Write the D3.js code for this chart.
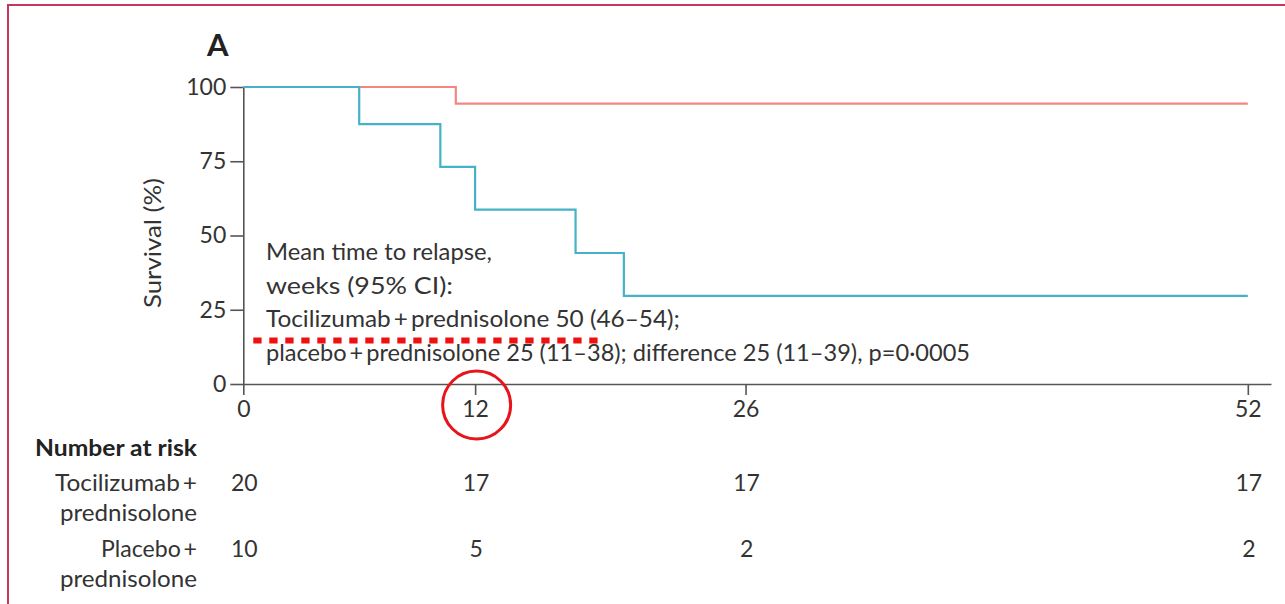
<html>
<script src="https://d3js.org/d3.v7.min.js"></script>
<style>
body { margin: 0; background-color: #ffffff; }
svg text { font-family: Lato, "Open Sans", sans-serif; fill: #333; }
.axis path, .axis line { stroke: #555; stroke-width: 1.6px; }
.axis text { font-size: 23px; fill: #333; }
</style>
<body>
<script>
// x ticks and y ticks
var xTicks = [0, 12, 26, 52];
var yTicks = [0, 25, 50, 75, 100];

// Kaplan-Meier steps (weeks, survival %)
var tociWeeks = [0, 11, 52];
var tociSurv  = [100, 94.4, 94.4];
var placWeeks = [0, 6, 10.2, 12, 17.2, 19.7, 52];
var placSurv  = [100, 87.5, 73.1, 58.7, 44.1, 29.7, 29.7];

// number at risk, at each x tick
var riskToci = [20, 17, 17, 17];
var riskPlac = [10, 5, 2, 2];

var annotation = [
  "Mean time to relapse,",
  "weeks (95% CI):",
  "Tocilizumab\u2009+\u2009prednisolone 50 (46\u201354);",
  "placebo\u2009+\u2009prednisolone 25 (11\u201338); difference 25 (11\u201339), p=0\u00b70005"
];
var annoWidths = [226, 187, 414, 704];

var W = 1285, H = 604;
var svg = d3.select("body").append("svg").attr("width", W).attr("height", H);

// frame
svg.append("path")
  .attr("d", "M8,604 L8,5 L1285,5")
  .attr("fill", "none").attr("stroke", "#c4385f").attr("stroke-width", 2);

var x = d3.scaleLinear().domain([0, 53.2]).range([243.3, 1271]);
var y = d3.scaleLinear().domain([0, 100]).range([384, 87]);

svg.append("text").attr("x", 207).attr("y", 56)
  .style("font-size", "31px").style("font-weight", "bold").style("fill", "#222")
  .text("A");

svg.append("g").attr("class", "axis")
  .attr("transform", "translate(0," + y(0) + ")")
  .call(d3.axisBottom(x).tickValues(xTicks).tickSize(11).tickSizeOuter(0).tickPadding(6))
  .call(function(g){ g.selectAll("text").style("font-family", "Lato, sans-serif"); });

svg.append("g").attr("class", "axis")
  .attr("transform", "translate(" + x(0) + ",0)")
  .call(d3.axisLeft(y).tickValues(yTicks).tickSize(13).tickSizeOuter(0).tickPadding(4))
  .call(function(g){ g.selectAll("text").style("font-family", "Lato, sans-serif"); });

svg.append("text")
  .attr("transform", "translate(161,243) rotate(-90)")
  .attr("text-anchor", "middle")
  .attr("textLength", 130).attr("lengthAdjust", "spacingAndGlyphs")
  .style("font-size", "23px")
  .text("Survival (%)");

var line = d3.line()
  .x(function(d){ return x(d[0]); })
  .y(function(d){ return y(d[1]); })
  .curve(d3.curveStepAfter);

svg.append("path")
  .datum(d3.zip(tociWeeks, tociSurv))
  .attr("d", line).attr("fill", "none")
  .attr("stroke", "#f2877f").attr("stroke-width", 2.2);

svg.append("path")
  .datum(d3.zip(placWeeks, placSurv))
  .attr("d", line).attr("fill", "none")
  .attr("stroke", "#45b2c8").attr("stroke-width", 2.2);

// annotation text
var baselines = [260, 293.5, 327, 361];
svg.selectAll(".anno").data(annotation).enter().append("text")
  .attr("class", "anno")
  .attr("x", 266)
  .attr("y", function(d, i){ return baselines[i]; })
  .attr("textLength", function(d, i){ return annoWidths[i]; })
  .attr("lengthAdjust", "spacingAndGlyphs")
  .style("font-size", "23px")
  .text(function(d){ return d; });

// red dotted highlight
svg.append("line")
  .attr("x1", 253.3).attr("x2", 598).attr("y1", 340.5).attr("y2", 340.5)
  .attr("stroke", "#ee1111").attr("stroke-width", 6)
  .attr("stroke-dasharray", "8.3,7.7");

// red circle around 12
svg.append("circle")
  .attr("cx", x(12) + 1.5).attr("cy", y(0) + 21).attr("r", 34)
  .attr("fill", "none").attr("stroke", "#e8141c").attr("stroke-width", 3);

// number at risk table
svg.append("text").attr("x", 197).attr("y", 456).attr("text-anchor", "end")
  .attr("textLength", 162).attr("lengthAdjust", "spacingAndGlyphs")
  .style("font-size", "23px").style("font-weight", "bold").style("fill", "#222")
  .text("Number at risk");

var rowLabels = [["Tocilizumab\u2009+", 490.5, 142], ["prednisolone", 521, 137], ["Placebo\u2009+", 556.5, 96], ["prednisolone", 587, 137]];
svg.selectAll(".rowlab").data(rowLabels).enter().append("text")
  .attr("class", "rowlab")
  .attr("x", 197).attr("y", function(d){ return d[1]; })
  .attr("text-anchor", "end").style("font-size", "23px")
  .attr("textLength", function(d){ return d[2]; }).attr("lengthAdjust", "spacingAndGlyphs")
  .text(function(d){ return d[0]; });

svg.selectAll(".riskT").data(riskToci).enter().append("text")
  .attr("class", "riskT")
  .attr("x", function(d, i){ return x(xTicks[i]) + 1; }).attr("y", 490.5)
  .attr("text-anchor", "middle").style("font-size", "23px")
  .text(function(d){ return d; });

svg.selectAll(".riskP").data(riskPlac).enter().append("text")
  .attr("class", "riskP")
  .attr("x", function(d, i){ return x(xTicks[i]) + 1; }).attr("y", 556.5)
  .attr("text-anchor", "middle").style("font-size", "23px")
  .text(function(d){ return d; });
</script>
</body>
</html>
